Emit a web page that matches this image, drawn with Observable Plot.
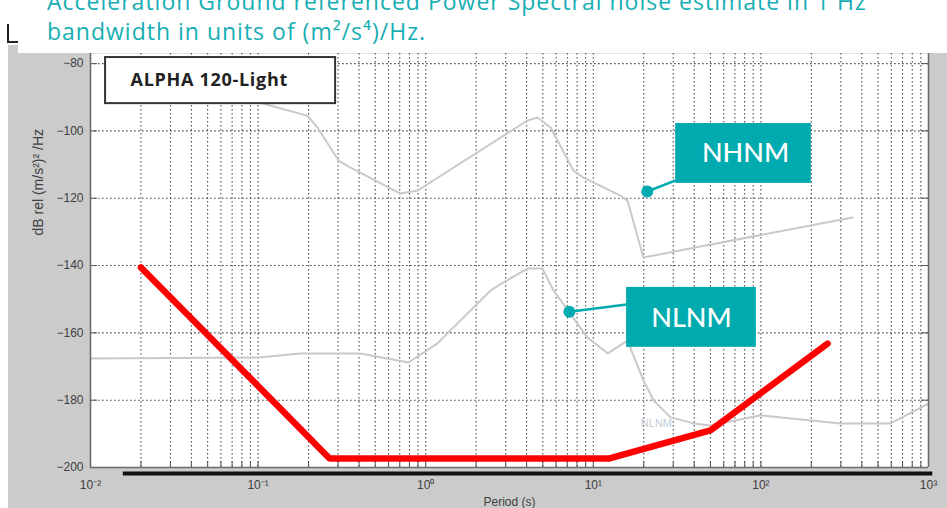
<!DOCTYPE html>
<html><head><meta charset="utf-8">
<script src="https://cdn.jsdelivr.net/npm/d3@7"></script>
<script src="https://cdn.jsdelivr.net/npm/@observablehq/plot@0.6"></script>
<style>
html,body{margin:0;padding:0;background:#fff;}
#wrap{position:relative;width:947px;height:508px;overflow:hidden;}
#panel{position:absolute;left:8px;top:45px;width:939px;height:463px;background:#cbcbcb;}
#corner{position:absolute;left:7px;top:24px;width:12px;height:17px;border-left:2px solid #222;border-bottom:2px solid #222;}
#chart{position:absolute;left:0;top:0;}
#title{position:absolute;left:18px;top:0;width:929px;height:53px;background:#fff;overflow:hidden;}
#title div{position:absolute;left:29px;top:-14px;font-family:"Open Sans",sans-serif;font-size:23px;letter-spacing:1px;line-height:30px;color:#17aeb3;white-space:nowrap;}
.namelabel text{letter-spacing:0.7px;}
</style></head><body>
<div id="wrap">
  <div id="panel"></div>
  <div id="corner"></div>
  <div id="chart"></div>
  <div id="title"><div id="titletext"></div></div>
</div>
<script>
// ---- text ----
const titleLines = ["Acceleration Ground referenced Power Spectral noise estimate in 1 Hz", "bandwidth in units of (m²/s⁴)/Hz."];
const instrumentName = "ALPHA 120-Light";
const xTitle = "Period (s)";
const yTitle = "dB rel (m/s²)² /Hz";

// ---- axes ----
const xDomain = [0.01, 1000];
const yDomain = [-200, -77];
const xDecades = [0.01, 0.1, 1, 10, 100, 1000];
const xDecadeLabels = ["10⁻²", "10⁻¹", "10⁰", "10¹", "10²", "10³"];
const yTicks = [-200, -180, -160, -140, -120, -100, -80];

// ---- series: New High Noise Model (grey) ----
const nhnmPeriod = [0.1, 0.197, 0.226, 0.302, 0.356, 0.708, 0.894, 4.05, 4.64, 5.56, 7.62, 8.75, 14.5, 16.0, 19.9, 352];
const nhnmDb     = [-91.5, -95.5, -99.0, -108.8, -110.9, -118.6, -117.7, -96.9, -96.0, -99.0, -111.8, -113.9, -119.2, -120.7, -137.6, -125.7];

// ---- series: New Low Noise Model (grey) ----
const nlnmPeriod = [0.01, 0.1, 0.179, 0.408, 0.79, 1.17, 2.44, 2.91, 4.05, 4.97, 5.79, 9.23, 12.2, 16.0, 19.9, 22.9, 28.9, 39.7, 50, 100, 299, 593, 1000];
const nlnmDb     = [-167.6, -167.3, -166.1, -166.1, -168.8, -163.2, -147.4, -145.0, -140.9, -140.9, -147.4, -161.4, -166.1, -162.3, -174.1, -180.1, -185.1, -186.9, -187.5, -184.5, -186.9, -186.9, -181.0];

// ---- series: ALPHA 120-Light self noise (red) ----
const alphaPeriod = [0.02, 0.267, 12.5, 50, 250];
const alphaDb     = [-140.6, -197.3, -197.3, -189.0, -163.2];

// ---- annotations (data coordinates) ----
const nameBox = [{x1: 0.0123, x2: 0.290, y1: -78.2, y2: -91.9, tx: 0.01734, ty: -85.0}];
const calloutLabels = ["NHNM", "NLNM"];
const calloutBoxX1 = [31, 15.8];
const calloutBoxX2 = [200, 94];
const calloutBoxY1 = [-97.8, -146.5];
const calloutBoxY2 = [-115.6, -164.3];
const calloutTextX = [80.9, 38.5];
const calloutTextY = [-106.7, -155.7];
const calloutDotX  = [21, 7.2];
const calloutDotY  = [-118.0, -153.7];
const calloutJoinX = [31, 15.8];
const calloutJoinY = [-114.7, -151.6];
const faintLabel = [{x: 23.8, y: -186.9, text: "NLNM"}];
const baseBar = [{x1: 0.0157, x2: 1060, y: -201.8}];

// ---- build ----
document.getElementById("titletext").innerHTML = titleLines.join("<br>");
const nhnm = nhnmPeriod.map((p, i) => ({p, db: nhnmDb[i]}));
const nlnm = nlnmPeriod.map((p, i) => ({p, db: nlnmDb[i]}));
const alpha = alphaPeriod.map((p, i) => ({p, db: alphaDb[i]}));
const callouts = calloutLabels.map((label, i) => ({
  label, x1: calloutBoxX1[i], x2: calloutBoxX2[i], y1: calloutBoxY1[i], y2: calloutBoxY2[i],
  tx: calloutTextX[i], ty: calloutTextY[i], dx: calloutDotX[i], dy: calloutDotY[i], jx: calloutJoinX[i], jy: calloutJoinY[i]
}));
const minorTicks = d3.scaleLog().domain(xDomain).ticks();
const teal = "#00abb0";
const gridStyle = {stroke: "#3a3a3a", strokeDasharray: "1.6,2.4", strokeWidth: 1.1, strokeOpacity: 0.9};

const chart = Plot.plot({
  width: 947, height: 508,
  marginLeft: 90, marginRight: 19, marginTop: 53, marginBottom: 41,
  style: {background: "transparent", fontFamily: "'Liberation Sans', Arial, sans-serif", fontSize: "12px", color: "#404040"},
  x: {type: "log", domain: xDomain, ticks: xDecades, tickFormat: d => xDecadeLabels[xDecades.indexOf(d)], tickSize: 0, tickPadding: 13, label: null},
  y: {domain: yDomain, ticks: yTicks, tickSize: 0, tickPadding: 7, label: null},
  marks: [
    Plot.frame({fill: "white", stroke: null}),
    Plot.ruleX(minorTicks, gridStyle),
    Plot.ruleY(yTicks, gridStyle),
    Plot.tickY(yTicks, {insetRight: 831, stroke: "#555"}),
    Plot.tickY(yTicks, {insetLeft: 831, stroke: "#555"}),
    Plot.tickX(minorTicks, {insetTop: 408, stroke: "#555"}),
    Plot.line(nlnm, {x: "p", y: "db", stroke: "#c9c9c9", strokeWidth: 2}),
    Plot.line(nhnm, {x: "p", y: "db", stroke: "#c9c9c9", strokeWidth: 2}),
    Plot.text(faintLabel, {x: "x", y: "y", text: "text", fill: "#c3ccd6", fontSize: 11}),
    Plot.line(alpha, {x: "p", y: "db", stroke: "#ff0000", strokeWidth: 6.5, strokeLinejoin: "miter"}),
    Plot.ruleX([xDomain[0], xDomain[1]], {stroke: "#6a6a6a", strokeWidth: 1.5}),
    Plot.ruleY([yDomain[0]], {stroke: "#6a6a6a", strokeWidth: 1.5}),
    Plot.ruleY(baseBar, {x1: "x1", x2: "x2", y: "y", stroke: "#111", strokeWidth: 4}),
    Plot.rect(nameBox, {x1: "x1", x2: "x2", y1: "y1", y2: "y2", fill: "white", stroke: "#333", strokeWidth: 2}),
    Plot.text(nameBox, {x: "tx", y: "ty", text: () => instrumentName, textAnchor: "start", fontFamily: "'Open Sans', sans-serif", fontWeight: "bold", fontSize: 18, fill: "#222", className: "namelabel"}),
    Plot.link(callouts, {x1: "dx", y1: "dy", x2: "jx", y2: "jy", stroke: teal, strokeWidth: 2.5}),
    Plot.dot(callouts, {x: "dx", y: "dy", r: 6, fill: teal, stroke: null}),
    Plot.rect(callouts, {x1: "x1", x2: "x2", y1: "y1", y2: "y2", fill: teal}),
    Plot.text(callouts, {x: "tx", y: "ty", text: "label", fill: "white", fontSize: 27, fontFamily: "Lato, sans-serif", fontWeight: 500}),
    Plot.text([xTitle], {frameAnchor: "bottom", dy: 38, fontSize: 12, fill: "#404040"}),
    Plot.text([yTitle], {frameAnchor: "left", dx: -52, dy: -25, rotate: -90, fontSize: 14, fill: "#404040"})
  ]
});
document.getElementById("chart").appendChild(chart);
</script>
</body></html>
